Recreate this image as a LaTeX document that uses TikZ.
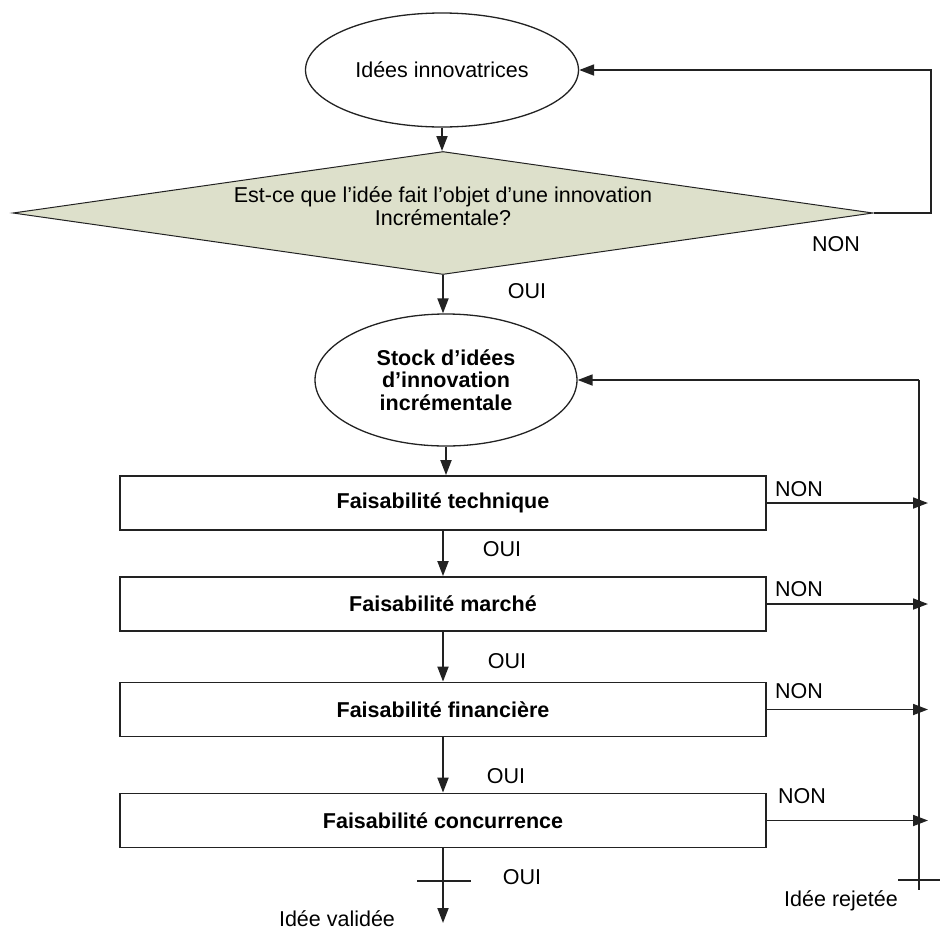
\documentclass[tikz,border=0pt]{standalone}
\usepackage{fontspec}
\setmainfont{Liberation Sans}
\usetikzlibrary{shapes.geometric,arrows.meta}
\definecolor{ink}{HTML}{222222}
\definecolor{decfill}{HTML}{DDE0CB}
\begin{document}
\begin{tikzpicture}[x=1pt,y=-1pt,
  every node/.style={font=\fontsize{21.5}{22.5}\selectfont, text=black},
  line/.style={draw=ink, line width=1.8pt},
  arr/.style={line, -{Triangle[length=15pt,width=11pt]}},
  oval/.style={ellipse, draw=ink, line width=1.3pt, inner sep=0pt, align=center},
  stepbox/.style={rectangle, draw=ink, line width=1.8pt, minimum width=646pt,
    minimum height=54pt, inner sep=0pt,
    font=\fontsize{21.5}{22.5}\selectfont\bfseries},
  decision/.style={diamond, aspect=7, draw=ink, line width=1pt, fill=decfill,
    minimum width=860pt, minimum height=123pt, inner sep=0pt},
  tag/.style={inner sep=0pt, anchor=base}]
\useasboundingbox (0,0) rectangle (940,930);

% main column
\node[oval, minimum width=273pt, minimum height=114pt] (idees) at (442,70)
  {Idées innovatrices};
\node[decision, label={[align=center, yshift=7pt]center:Est-ce que l’idée fait l’objet d’une innovation\\Incrémentale?}]
  (question) at (443,213) {};
\node[oval, minimum width=262pt, minimum height=132pt,
  font=\fontsize{21.5}{22.5}\selectfont\bfseries] (stock) at (446,380)
  {Stock d’idées\\d’innovation\\incrémentale};
\node[stepbox] (tech)   at (443,503)   {Faisabilité technique};
\node[stepbox] (marche) at (443,604)   {Faisabilité marché};
\node[stepbox] (fin)    at (443,709.5) {Faisabilité financière};
\node[stepbox] (conc)   at (443,820.5) {Faisabilité concurrence};

% helper points
\coordinate (loopx)   at (931,0);
\coordinate (tipx)    at (928,0);
\coordinate (railtop) at (919,380);
\coordinate (railend) at (919,890);
\coordinate (rejL)    at (898,880);
\coordinate (rejR)    at (940,880);
\coordinate (valide)  at (443,923);
\coordinate (valL)    at (417,881);
\coordinate (valR)    at (471,881);

% top loop
\draw[arr] (idees.south) -- (idees.south |- question.north);
\draw[arr] (question.east) -- (question.east -| loopx)
  -- (idees.east -| loopx) -- (idees.east);
\draw[arr] (question.south) -- (question.south |- stock.north);
\draw[arr] (stock.south) -- (stock.south |- tech.north);

% yes path
\draw[arr] (tech.south) -- (marche.north);
\draw[arr] (marche.south) -- (fin.north);
\draw[arr] (fin.south) -- (conc.north);
\draw[arr] (conc.south) -- (valide);
\draw[line] (valL) -- (valR);

% rejection rail
\draw[arr] (railtop) -- (stock.east);
\draw[line] (railtop) -- (railend);
\draw[line] (rejL) -- (rejR);
\draw[arr] (tech.east) -- (tech.east -| tipx);
\draw[arr] (marche.east) -- (marche.east -| tipx);
\draw[arr] (fin.east) -- (fin.east -| tipx);
\draw[arr] (conc.east) -- (conc.east -| tipx);

% labels
\node[tag] (non0) at (836,251) {NON};
\node[tag] (oui0) at (527,298) {OUI};
\node[tag, anchor=base west] (non1) at (775,496) {NON};
\node[tag] (oui1) at (502,556) {OUI};
\node[tag, anchor=base west] (non2) at (775,596) {NON};
\node[tag] (oui2) at (507,668) {OUI};
\node[tag, anchor=base west] (non3) at (775,698) {NON};
\node[tag] (oui3) at (506,783) {OUI};
\node[tag, anchor=base west] (non4) at (778,803) {NON};
\node[tag] (oui4) at (522,884) {OUI};
\node[tag] (ok)  at (337,926) {Idée validée};
\node[tag] (ko)  at (841,906) {Idée rejetée};
\end{tikzpicture}
\end{document}
